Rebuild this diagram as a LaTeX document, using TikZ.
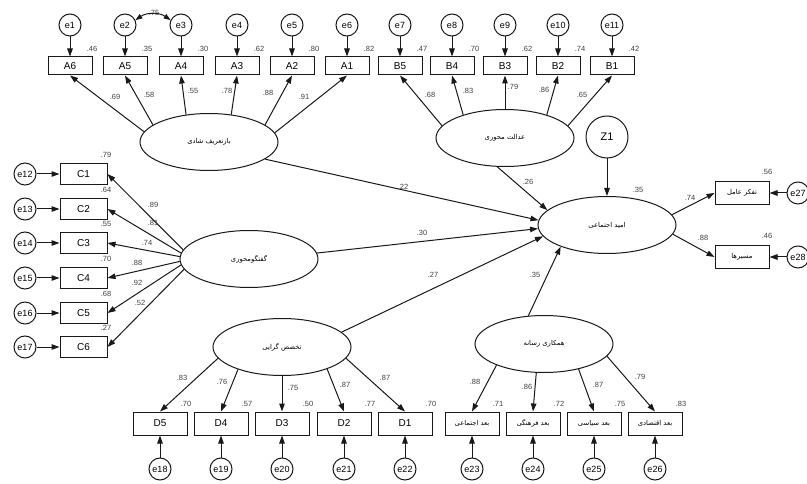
\documentclass[tikz,border=0pt]{standalone}
\usepackage{fontspec}
\setmainfont{Liberation Sans}
\newfontfamily\fafont[Script=Arabic]{DejaVu Sans}
\TeXXeTstate=1
\usetikzlibrary{shapes.geometric,arrows.meta}
\newcommand{\fatext}[1]{{\fafont\fontsize{6.8}{8}\selectfont\beginR #1\endR}}
\begin{document}
\begin{tikzpicture}[x=1pt,y=-1pt,
 ln/.style={draw=black!90, line width=1pt},
 arr/.style={ln, -{Triangle[length=8pt,width=5.5pt]}},
 darr/.style={ln, {Triangle[length=7pt,width=5pt]}-{Triangle[length=7pt,width=5pt]}},
 obs/.style={draw=black!90, line width=1pt, rectangle, minimum width=44pt, minimum height=18pt, inner sep=0pt, font=\fontsize{10}{12}\selectfont},
 obsc/.style={obs, minimum width=47pt, minimum height=21pt},
 obsd/.style={obs, minimum width=54pt, minimum height=23pt},
 err/.style={draw=black!90, line width=1pt, circle, minimum size=22pt, inner sep=0pt, font=\fontsize{9}{11}\selectfont},
 lat/.style={draw=black!90, line width=1pt, ellipse, minimum width=138pt, minimum height=57pt, inner sep=0pt},
 num/.style={font=\fontsize{7.5}{9}\selectfont, text=black!75, inner sep=0pt}]
\useasboundingbox[fill=white] (0,0) rectangle (807,484);

% latent variables
\node[lat] (bt) at (209,142) {\fatext{بازتعریف شادی}};
\node[lat] (ad) at (505,138) {\fatext{عدالت محوری}};
\node[lat] (gc) at (249,259) {\fatext{گفتگومحوری}};
\node[lat] (tk) at (282,347) {\fatext{تخصص گرایی}};
\node[lat] (hr) at (544,344) {\fatext{همکاری رسانه}};
\node[lat] (amid) at (607,225) {\fatext{امید اجتماعی}};
\node[err, minimum size=42pt, font=\fontsize{11}{13}\selectfont] (Z1) at (607,137) {Z1};

% top indicators
\foreach \n/\x/\e/\r in {A6/70/1/.46, A5/125/2/.35, A4/181/3/.30, A3/237/4/.62, A2/292/5/.80, A1/347/6/.82, B5/400/7/.47, B4/452/8/.70, B3/505/9/.62, B2/558/10/.74, B1/612/11/.42}{
  \node[obs] (\n) at (\x,66) {\n};
  \node[err] (e\e) at (\x,25) {e\e};
  \draw[arr] (e\e) -- (\n);
  \node[num] (r\n) at (\x+22,49) {\r};
}
\draw[darr] (e2.25) to[bend left=35] (e3.155);
\node[num] (c23) at (154,13) {.75};

% C indicators
\foreach \i/\y/\e/\r in {1/174/12/.79, 2/209/13/.64, 3/243/14/.55, 4/278/15/.70, 5/313/16/.68, 6/347/17/.27}{
  \node[obsc] (C\i) at (83.5,\y) {C\i};
  \node[err] (e\e) at (25,\y) {e\e};
  \draw[arr] (e\e) -- (C\i);
  \node[num] (rC\i) at (106,\y-19) {\r};
}

% D indicators
\foreach \n/\x/\e/\r in {D5/160/18/.70, D4/221/19/.57, D3/282/20/.50, D2/344/21/.77, D1/405/22/.70}{
  \node[obsd] (\n) at (\x,423.5) {\n};
  \node[err] (e\e) at (\x,469) {e\e};
  \draw[arr] (e\e) -- (\n);
  \node[num] (r\n) at (\x+26,404) {\r};
}

% media indicators
\node[obsd] (m1) at (472,423.5) {\fatext{بعد اجتماعی}};
\node[obsd] (m2) at (533,423.5) {\fatext{بعد فرهنگی}};
\node[obsd] (m3) at (594,423.5) {\fatext{بعد سیاسی}};
\node[obsd] (m4) at (655,423.5) {\fatext{بعد اقتصادی}};
\foreach \i/\x/\e/\r in {1/472/23/.71, 2/533/24/.72, 3/594/25/.75, 4/655/26/.83}{
  \node[err] (e\e) at (\x,469) {e\e};
  \draw[arr] (e\e) -- (m\i);
  \node[num] (rm\i) at (\x+26,404) {\r};
}

% hope indicators
\node[obsd] (t1) at (742,193) {\fatext{تفکر عامل}};
\node[obsd] (t2) at (742,257) {\fatext{مسیرها}};
\node[err] (e27) at (798,193) {e27};
\node[err] (e28) at (798,257) {e28};
\draw[arr] (e27) -- (t1);
\draw[arr] (e28) -- (t2);
\node[num] (rt1) at (767,172) {.56};
\node[num] (rt2) at (767,236) {.46};

% loadings A
\draw[arr] (bt.171) -- (A6.south); \node[num] (lA6) at (115,97) {.69};
\draw[arr] (bt.163) -- (A5.south); \node[num] (lA5) at (149,95) {.58};
\draw[arr] (bt.130) -- (A4.south); \node[num] (lA4) at (193,91) {.55};
\draw[arr] (bt.51) -- (A3.south);  \node[num] (lA3) at (227,91) {.78};
\draw[arr] (bt.17) -- (A2.south);  \node[num] (lA2) at (268,93) {.88};
\draw[arr] (bt.8) -- (A1.south);   \node[num] (lA1) at (304,97) {.91};

% loadings B
\draw[arr] (ad.169) -- (B5.south); \node[num] (lB5) at (430,95) {.68};
\draw[arr] (ad.151) -- (B4.south); \node[num] (lB4) at (468,91) {.83};
\draw[arr] (ad.90) -- (B3.south);  \node[num] (lB3) at (513,87) {.79};
\draw[arr] (ad.29) -- (B2.south);  \node[num] (lB2) at (544,90) {.86};
\draw[arr] (ad.11) -- (B1.south);  \node[num] (lB1) at (582,95) {.65};

% loadings C
\draw[arr] (gc.172) -- (C1.east); \node[num] (lC1) at (153,205) {.89};
\draw[arr] (gc.175) -- (C2.east); \node[num] (lC2) at (153,223) {.81};
\draw[arr] (gc.178) -- (C3.east); \node[num] (lC3) at (147,243) {.74};
\draw[arr] (gc.182) -- (C4.east); \node[num] (lC4) at (137,263) {.88};
\draw[arr] (gc.185) -- (C5.east); \node[num] (lC5) at (137,283) {.92};
\draw[arr] (gc.189) -- (C6.east); \node[num] (lC6) at (140,303) {.52};

% loadings D
\draw[arr] (tk.190) -- (D5.north); \node[num] (lD5) at (182,378) {.83};
\draw[arr] (tk.207) -- (D4.north); \node[num] (lD4) at (222,382) {.76};
\draw[arr] (tk.270) -- (D3.north); \node[num] (lD3) at (293,388) {.75};
\draw[arr] (tk.334) -- (D2.north); \node[num] (lD2) at (345,385) {.87};
\draw[arr] (tk.350) -- (D1.north); \node[num] (lD1) at (385,378) {.87};

% loadings media
\draw[arr] (hr.204) -- (m1.north); \node[num] (lm1) at (475,382) {.88};
\draw[arr] (hr.255) -- (m2.north); \node[num] (lm2) at (527,387) {.86};
\draw[arr] (hr.324) -- (m3.north); \node[num] (lm3) at (598,385) {.87};
\draw[arr] (hr.349) -- (m4.north); \node[num] (lm4) at (640,377) {.79};

% structural paths
\draw[arr] (bt.343) -- (amid.176); \node[num] (p1) at (403,187) {.22};
\draw[arr] (gc.5) -- (amid.183);   \node[num] (p2) at (422,233) {.30};
\draw[arr] (tk.14) -- (amid.190);  \node[num] (p3) at (433,275) {.27};
\draw[arr] (ad.255) -- (amid.166); \node[num] (p4) at (528,182) {.26};
\draw[arr] (hr.119) -- (amid.205); \node[num] (p5) at (535,275) {.35};
\draw[arr] (Z1.south) -- (amid.north); \node[num] (r35) at (638,190) {.35};
\draw[arr] (amid.9) -- (t1.west);  \node[num] (lt1) at (690,198) {.74};
\draw[arr] (amid.-8) -- (t2.west); \node[num] (lt2) at (703,238) {.88};
\end{tikzpicture}
\end{document}
